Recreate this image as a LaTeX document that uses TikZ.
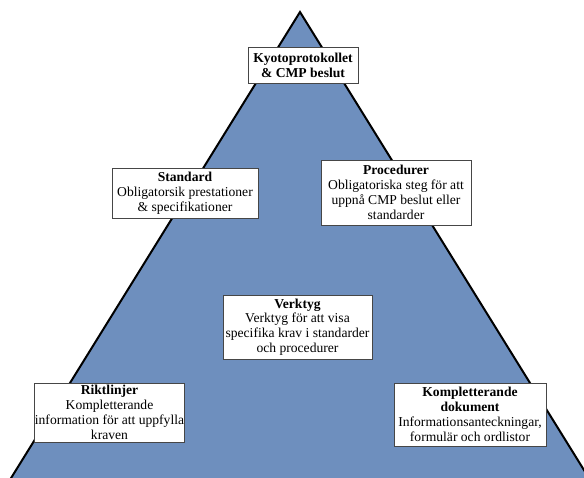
\documentclass[tikz,border=0pt]{standalone}
\usepackage{fontspec}
\setmainfont{Liberation Serif}
\definecolor{pyrblue}{RGB}{110,143,190}
\definecolor{boxline}{RGB}{70,70,70}
\begin{document}
\begin{tikzpicture}[x=1pt,y=-1pt,
  infobox/.style={draw=boxline,line width=0.8pt,fill=white,align=center,inner sep=0.5pt,
    font=\fontsize{13.6}{14.8}\selectfont,anchor=center}]
\useasboundingbox (0,0) rectangle (584,477);
\begin{scope}
\clip (0,0) rectangle (584,477);
\fill[pyrblue] (300,12) -- (-10,512) -- (610,512) -- cycle;
\draw[line width=2pt,line join=miter] (-10,512) -- (300,12) -- (610,512);
\end{scope}
\node[infobox,minimum width=110,minimum height=36] (kyoto) at (303,65)
  {\textbf{Kyotoprotokollet}\\\textbf{\& CMP beslut}};
\node[infobox,minimum width=146,minimum height=50] (standard) at (185,193)
  {\textbf{Standard}\\Obligatorsik prestationer\\\& specifikationer};
\node[infobox,minimum width=150,minimum height=65] (proc) at (396,192.5)
  {\textbf{Procedurer}\\Obligatoriska steg för att\\uppnå CMP beslut eller\\standarder};
\node[infobox,minimum width=149,minimum height=64] (verktyg) at (297.5,327)
  {\textbf{Verktyg}\\Verktyg för att visa\\specifika krav i standarder\\och procedurer};
\node[infobox,minimum width=149,minimum height=59] (rikt) at (109.5,412.5)
  {\textbf{Riktlinjer}\\Kompletterande\\information för att uppfylla\\kraven};
\node[infobox,minimum width=152,minimum height=63] (komp) at (470,414.5)
  {\textbf{Kompletterande}\\\textbf{dokument}\\Informationsanteckningar,\\formulär och ordlistor};
\end{tikzpicture}
\end{document}
